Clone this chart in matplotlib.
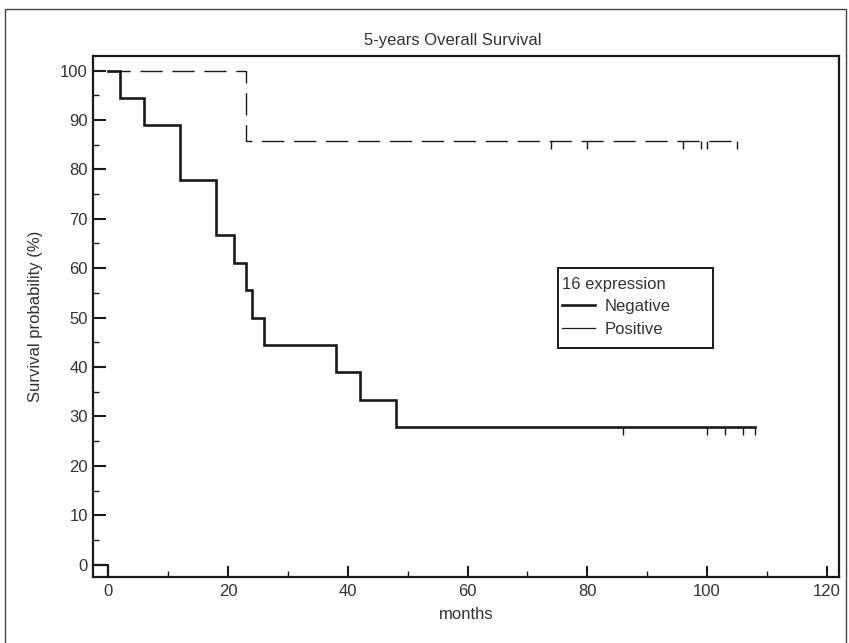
import matplotlib
matplotlib.use('Agg')
import matplotlib.pyplot as plt
from matplotlib.lines import Line2D
from matplotlib.patches import Rectangle
from matplotlib.ticker import MultipleLocator

plt.rcParams['font.family'] = ['Liberation Sans Narrow', 'Liberation Sans', 'DejaVu Sans']

# Kaplan-Meier step data (months, survival %)
neg_times = [0, 2, 6, 12, 18, 21, 23, 24, 26, 38, 42, 48, 108]
neg_surv = [100, 94.4, 88.9, 77.8, 66.7, 61.1, 55.6, 50.0, 44.4, 38.9, 33.3, 27.8, 27.8]
neg_censored = [86, 100, 103, 106, 108]

pos_times = [0, 23, 105]
pos_surv = [100, 85.7, 85.7]
pos_censored = [74, 80, 96, 99, 100, 105]

# small stray mark at the origin in the original
stray_x = [-2.5, 0, 0]
stray_y = [0, 0, -2.5]

x_ticks = [0, 20, 40, 60, 80, 100, 120]
y_ticks = [0, 10, 20, 30, 40, 50, 60, 70, 80, 90, 100]

col = '#1a1a1a'
txt = '#333333'
fs = 12

fig = plt.figure(figsize=(8.49, 6.43), dpi=100)
ax = fig.add_axes([0.110, 0.1026, 0.878, 0.8108])

ax.step(neg_times, neg_surv, where='post', color=col, lw=1.9, solid_joinstyle='miter')
ax.vlines(neg_censored, [neg_surv[-1] - 1.6] * len(neg_censored), [neg_surv[-1]] * len(neg_censored),
          color=col, lw=1.0)

ax.step(pos_times, pos_surv, where='post', color=col, lw=1.0, dashes=(16, 7))
ax.vlines(pos_censored, [pos_surv[-1] - 1.6] * len(pos_censored), [pos_surv[-1]] * len(pos_censored),
          color=col, lw=1.0)

ax.plot(stray_x, stray_y, color=col, lw=1.6, clip_on=False)

ax.set_xlim(-2.5, 122)
ax.set_ylim(-2.5, 103)
ax.set_xticks(x_ticks)
ax.set_yticks(y_ticks)
ax.xaxis.set_minor_locator(MultipleLocator(10))
ax.yaxis.set_minor_locator(MultipleLocator(5))
ax.tick_params(which='major', direction='in', width=1.5, color=col, labelsize=fs, labelcolor=txt)
ax.tick_params(axis='x', which='major', length=8, pad=5)
ax.tick_params(axis='y', which='major', length=9, pad=4)
ax.tick_params(which='minor', direction='in', width=1.0, length=4, color=col)
for s in ax.spines.values():
    s.set_linewidth(1.6)
    s.set_color(col)

ax.set_xlabel('months', fontsize=fs, color=txt, labelpad=6)
ax.set_ylabel('Survival probability (%)', fontsize=fs, color=txt, labelpad=12)
fig.text(453 / 849, 1 - 40 / 643, '5-years Overall Survival', ha='center', va='center',
         fontsize=fs, color=txt)

# legend without its own frame; box drawn separately to match the wider original
handles = [Line2D([], [], color=col, lw=1.9), Line2D([], [], color=col, lw=0.9)]
leg = ax.legend(handles, ['Negative', 'Positive'], title='16 expression', loc='upper left',
                bbox_to_anchor=(0.628, 0.576), frameon=False, fontsize=fs,
                title_fontsize=fs, handlelength=2.0, handletextpad=0.6, borderpad=0.0,
                labelspacing=0.45, borderaxespad=0)
leg._legend_box.align = 'left'
leg.get_title().set_color(txt)
for t in leg.get_texts():
    t.set_color(txt)
ax.add_patch(Rectangle((0.623, 0.439), 0.208, 0.154, transform=ax.transAxes, fill=False,
                       edgecolor=col, lw=1.4, zorder=5))

# outer frame around the figure
fig.patches.append(Rectangle((5 / 849, -0.05), 841 / 849, 1.05 - 9 / 643, transform=fig.transFigure,
                             fill=False, edgecolor='#444444', lw=1.0))

fig.savefig('out.png', dpi=100)
